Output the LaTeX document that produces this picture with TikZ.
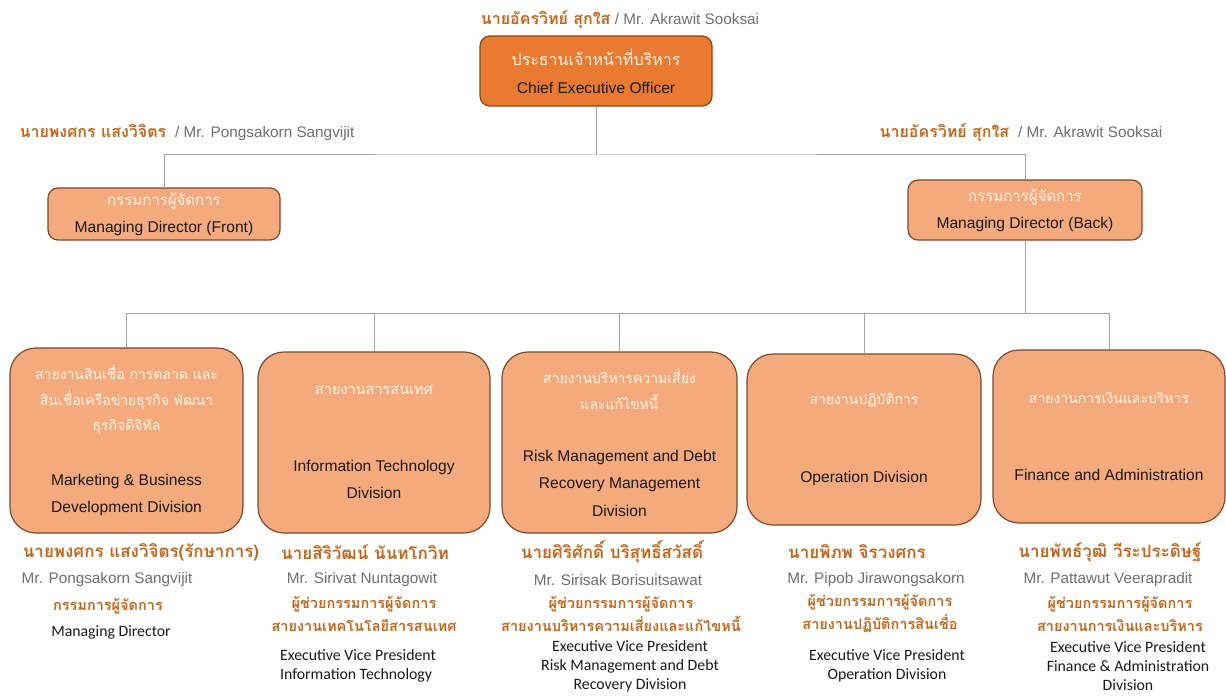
\documentclass[tikz,border=0pt]{standalone}
\usepackage{fontspec}
\setmainfont{Liberation Sans}
\newfontfamily\thaifont[Script=Thai]{Loma}
\newfontfamily\calfont{Carlito}
\usetikzlibrary{positioning}
\definecolor{naranja}{HTML}{E97A2F}
\definecolor{tostado}{HTML}{8C4514}
\definecolor{durazno}{HTML}{F4AA7C}
\definecolor{canela}{HTML}{7D4B2E}
\definecolor{ocre}{HTML}{C2661C}
\definecolor{grisnombre}{HTML}{6F6F6F}
\definecolor{grislinea}{HTML}{A3A3A3}
\definecolor{crema}{HTML}{FFF4E6}
\definecolor{tinta}{HTML}{1A1A1A}
\newcommand{\tblanco}[2][14]{{\thaifont\fontsize{#1}{27}\selectfont\color{crema}#2}}
\newcommand{\tocre}[1]{{\thaifont\bfseries\color{ocre}#1}}
\newcommand{\gnom}[1]{{\fontsize{15.3}{18}\selectfont\color{grisnombre}#1}}
\tikzset{
  linea/.style={draw=grislinea,line width=1pt},
  jefe/.style={draw=tostado,fill=naranja,rounded corners=10pt,line width=1.2pt,align=center,
    text=tinta,font=\fontsize{15.6}{28}\selectfont},
  gerente/.style={draw=canela,fill=durazno,rounded corners=10pt,line width=1.2pt,align=center,
    text=tinta,font=\fontsize{15.6}{27}\selectfont},
  division/.style={draw=canela,fill=durazno,rounded corners=26pt,line width=1.2pt,align=center,
    text=tinta,font=\fontsize{15.6}{27.5}\selectfont},
  nombre/.style={font=\fontsize{16}{20}\selectfont,inner sep=0pt},
  persona/.style={font=\fontsize{17}{20}\selectfont,inner sep=0pt},
  ingles/.style={font=\fontsize{15.3}{18}\selectfont,text=grisnombre,inner sep=0pt},
  cargo/.style={font=\fontsize{14.5}{23}\selectfont,align=center,inner sep=0pt},
  puesto/.style={font=\calfont\fontsize{15.8}{19}\selectfont,align=center,text=tinta,inner sep=0pt},
}
\begin{document}
\begin{tikzpicture}[x=1pt,y=-1pt]
  \useasboundingbox (0,0) rectangle (1226,698);
  % top levels
  \node[nombre] (nceo) at (620,20) {\tocre{นายอัครวิทย์ สุกใส} \gnom{/ Mr. Akrawit Sooksai}};
  \node[jefe,minimum width=232pt,minimum height=70pt] (ceo) at (596,71)
    {\tblanco[16]{ประธานเจ้าหน้าที่บริหาร}\\Chief Executive Officer};
  \node[nombre] (nmdf) at (187,133) {\tocre{นายพงศกร แสงวิจิตร} \ \gnom{/ Mr. Pongsakorn Sangvijit}};
  \node[nombre] (nmdb) at (1021,133) {\tocre{นายอัครวิทย์ สุกใส} \ \gnom{/ Mr. Akrawit Sooksai}};
  \node[gerente,minimum width=232pt,minimum height=52pt] (mdf) at (164,214)
    {\tblanco[15]{กรรมการผู้จัดการ}\\Managing Director (Front)};
  \node[gerente,minimum width=234pt,minimum height=60pt] (mdb) at (1025,210)
    {\tblanco[15]{กรรมการผู้จัดการ}\\Managing Director (Back)};
  \coordinate (j1) at (596,155);
  \coordinate (j2) at (1025,313);
  \draw[linea] (ceo.south) -- (j1);
  \draw[linea] (mdf.north) |- (j1) -| (mdb.north);
  \draw[linea] (mdb.south) -- (j2);
  % divisions
  \node[division,minimum width=233pt,minimum height=185pt] (d1) at (126.5,440.5)
    {\tblanco{สายงานสินเชื่อ การตลาด และ}\\[-2pt]\tblanco{สินเชื่อเครือข่ายธุรกิจ พัฒนา}\\[-2pt]\tblanco{ธุรกิจดิจิทัล}\\[27pt]
     Marketing \& Business\\Development Division};
  \node[division,minimum width=232pt,minimum height=181pt] (d2) at (374,442.5)
    {\tblanco[14.5]{สายงานสารสนเทศ}\\[49pt]Information Technology\\Division};
  \node[division,minimum width=235pt,minimum height=181pt] (d3) at (619.5,442.5)
    {\tblanco{สายงานบริหารความเสี่ยง}\\[-1pt]\tblanco{และแก้ไขหนี้}\\[24pt]
     Risk Management and Debt\\Recovery Management\\Division};
  \node[division,minimum width=234pt,minimum height=171pt] (d4) at (864,439.5)
    {\tblanco{สายงานปฏิบัติการ}\\[50pt]Operation Division};
  \node[division,minimum width=232pt,minimum height=173pt] (d5) at (1109,436.5)
    {\tblanco{สายงานการเงินและบริหาร}\\[50pt]Finance and Administration};
  \foreach \d in {d1,d2,d3,d4,d5}{\draw[linea] (j2) -| (\d.north);}
  % people
  \node[persona] (p1) at (141,552) {\tocre{นายพงศกร แสงวิจิตร(รักษาการ)}};
  \node[ingles] (e1) at (107,580) {Mr. Pongsakorn Sangvijit};
  \node[cargo] (c1) at (108,606) {\tocre{กรรมการผู้จัดการ}};
  \node[puesto] (t1) at (111,632) {Managing Director};
  \node[persona] (p2) at (365,552) {\tocre{นายสิริวัฒน์ นันทโกวิท}};
  \node[ingles] (e2) at (362,580) {Mr. Sirivat Nuntagowit};
  \node[cargo] (c2) at (364,613.5) {\tocre{ผู้ช่วยกรรมการผู้จัดการ}\\\tocre{สายงานเทคโนโลยีสารสนเทศ}};
  \node[puesto,align=left,anchor=west] (t2) at (280,665.5) {Executive Vice President\\Information Technology};
  \node[persona] (p3) at (612,552) {\tocre{นายศิริศักดิ์ บริสุทธิ์สวัสดิ์}};
  \node[ingles] (e3) at (618,580) {Mr. Sirisak Borisuitsawat};
  \node[cargo] (c3) at (621,613.5) {\tocre{ผู้ช่วยกรรมการผู้จัดการ}\\\tocre{สายงานบริหารความเสี่ยงและแก้ไขหนี้}};
  \node[puesto] (t3) at (630,666.5) {Executive Vice President\\Risk Management and Debt\\Recovery Division};
  \node[persona] (p4) at (857,552) {\tocre{นายพิภพ จิรวงศกร}};
  \node[ingles] (e4) at (876,580) {Mr. Pipob Jirawongsakorn};
  \node[cargo] (c4) at (880,613.5) {\tocre{ผู้ช่วยกรรมการผู้จัดการ}\\\tocre{สายงานปฏิบัติการสินเชื่อ}};
  \node[puesto] (t4) at (887,665.5) {Executive Vice President\\Operation Division};
  \node[persona] (p5) at (1110,552) {\tocre{นายพัทธ์วุฒิ วีระประดิษฐ์}};
  \node[ingles] (e5) at (1108,580) {Mr. Pattawut Veerapradit};
  \node[cargo] (c5) at (1120,613.5) {\tocre{ผู้ช่วยกรรมการผู้จัดการ}\\\tocre{สายงานการเงินและบริหาร}};
  \node[puesto] (t5) at (1128,666.5) {Executive Vice President\\Finance \& Administration\\Division};
\end{tikzpicture}
\end{document}
